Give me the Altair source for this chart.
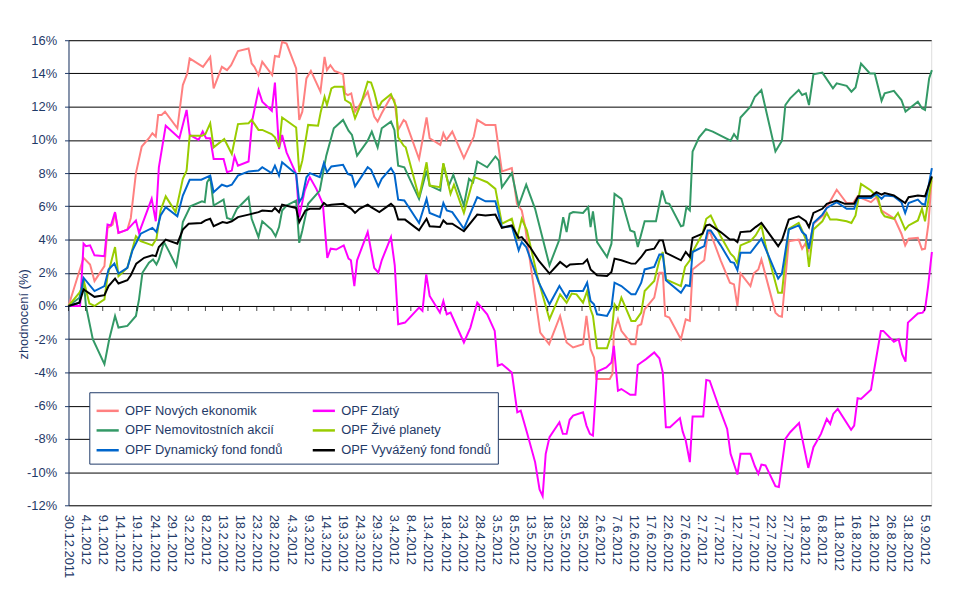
import altair as alt
import pandas as pd

FONT = "Liberation Sans"
NAVY = "#1F3A68"

SERIES = ["OPF Nových ekonomik", "OPF Zlatý", "OPF Nemovitostních akcií",
          "OPF Živé planety", "OPF Dynamický fond fondů", "OPF Vyvážený fond fondů"]
COLORS = ["#FF8080", "#FF00FF", "#339966", "#99CC00", "#0066CC", "#000000"]
# legend fills column by column, so list entries column-wise
LEGEND_ORDER = [0, 2, 4, 1, 3, 5]

X_LABELS = ["30.12.2011", "4.1.2012", "9.1.2012", "14.1.2012", "19.1.2012", "24.1.2012",
            "29.1.2012", "3.2.2012", "8.2.2012", "13.2.2012", "18.2.2012", "23.2.2012",
            "28.2.2012", "4.3.2012", "9.3.2012", "14.3.2012", "19.3.2012", "24.3.2012",
            "29.3.2012", "3.4.2012", "8.4.2012", "13.4.2012", "18.4.2012", "23.4.2012",
            "28.4.2012", "3.5.2012", "8.5.2012", "13.5.2012", "18.5.2012", "23.5.2012",
            "28.5.2012", "2.6.2012", "7.6.2012", "12.6.2012", "17.6.2012", "22.6.2012",
            "27.6.2012", "2.7.2012", "7.7.2012", "12.7.2012", "17.7.2012", "22.7.2012",
            "27.7.2012", "1.8.2012", "6.8.2012", "11.8.2012", "16.8.2012", "21.8.2012",
            "26.8.2012", "31.8.2012", "5.9.2012"]
Y_TICKS = [-12, -10, -8, -6, -4, -2, 0, 2, 4, 6, 8, 10, 12, 14, 16]

# days since 30.12.2011, value in %
nove_day = [0, 4.4, 6.3, 7.6, 10.5, 11.4, 12.9, 13.6, 14.6, 17.2, 18.2, 19.7, 21.4, 23.5, 24.5, 25.5, 26.2, 27.2, 28.2, 31.8, 33.4, 34.7, 35.4, 39.3, 41.4, 42.4, 44.8, 46.3, 47.5, 49.5, 52.6, 53.5, 54.3, 55.5, 56.6, 59.5, 60.3, 61.5, 62.4, 63.7, 66.5, 67.4, 68.3, 69.5, 70.8, 73.6, 74.8, 75.5, 76.5, 77.7, 80.2, 80.8, 81.6, 82.6, 83.7, 85.0, 87.4, 89.3, 90.3, 91.5, 94.2, 95.2, 96.3, 97.9, 98.5, 102.4, 104.6, 105.5, 108.6, 109.5, 110.4, 112.1, 115.5, 118.4, 119.4, 121.8, 124.7, 126.6, 129.5, 131.0, 132.4, 133.4, 137.8, 140.4, 143.6, 145.5, 147.4, 150.3, 151.3, 152.5, 153.5, 154.2, 158.1, 158.9, 159.3, 160.5, 161.5, 163.4, 164.4, 165.6, 166.3, 167.3, 168.3, 171.1, 172.6, 173.6, 174.3, 175.5, 178.9, 180.3, 181.5, 182.3, 185.7, 186.7, 187.3, 190.5, 193.2, 194.4, 195.4, 196.3, 199.2, 200.2, 201.5, 202.4, 206.5, 207.5, 208.4, 210.4, 213.3, 214.3, 215.2, 216.2, 217.6, 220.5, 221.5, 224.4, 227.3, 229.2, 230.5, 232.1, 234.4, 236.0, 237.5, 241.3, 243.3, 244.4, 245.4, 248.1, 249.3, 250.2, 251.2, 252.1]
nove_val = [0, 2.9, 2.5, 1.5, 2.4, 4.7, 4.9, 5.6, 4.4, 4.6, 5.3, 8.0, 9.6, 10.1, 10.4, 10.2, 11.5, 11.5, 11.7, 10.7, 13.3, 14.0, 14.9, 14.4, 15.0, 13.1, 14.4, 14.2, 14.5, 15.35, 15.5, 14.6, 14.4, 13.9, 14.7, 13.9, 15.05, 15.0, 15.9, 15.8, 14.3, 11.2, 11.7, 13.7, 14.15, 12.9, 15.0, 14.2, 14.5, 14.15, 13.95, 12.8, 12.7, 12.8, 11.7, 12.1, 12.9, 11.4, 11.1, 11.6, 12.6, 12.4, 10.6, 11.2, 11.1, 8.85, 11.35, 10.1, 9.7, 10.4, 10.0, 10.5, 8.9, 10.2, 11.2, 10.9, 10.9, 8.1, 8.3, 6.15, 5.75, 4.75, -1.6, -2.3, -0.6, -2.2, -2.5, -2.3, -0.6, -2.6, -3.1, -4.4, -4.4, -4.1, -1.6, -0.8, -1.5, -2.0, -2.3, -2.3, -1.2, -1.1, -0.2, 0.5, 2.0, 2.0, -0.6, -0.7, -2.0, -0.8, -0.9, 2.2, 2.75, 4.3, 4.5, 2.75, 1.4, 1.3, 0.0, 1.96, 1.2, 1.97, 2.2, 2.8, -0.4, -0.6, -0.65, 3.9, 4.0, 3.45, 3.75, 3.35, 4.95, 5.45, 5.95, 7.0, 6.2, 6.2, 6.6, 6.45, 6.25, 6.55, 5.75, 5.25, 4.35, 3.65, 4.05, 4.1, 3.4, 3.45, 4.95, 7.55]

zlaty_day = [0, 3.4, 4.4, 5.1, 6.3, 7.6, 10.5, 11.4, 12.4, 13.6, 14.6, 17.2, 19.7, 20.6, 24.3, 25.5, 26.4, 28.4, 32.4, 34.5, 35.4, 38.0, 39.2, 40.2, 41.4, 42.4, 45.3, 46.3, 47.7, 48.5, 49.5, 52.6, 53.7, 55.5, 56.6, 59.4, 60.3, 61.5, 62.4, 63.7, 66.5, 67.4, 69.0, 70.5, 72.4, 74.3, 75.6, 76.6, 78.2, 80.4, 81.8, 82.5, 83.5, 84.3, 87.4, 89.3, 90.5, 91.5, 94.2, 95.3, 96.3, 98.3, 102.4, 103.4, 104.5, 105.5, 108.5, 109.5, 110.5, 111.6, 115.5, 117.4, 119.4, 122.3, 124.5, 125.4, 126.6, 129.5, 131.1, 132.1, 133.9, 136.3, 137.6, 138.5, 139.4, 140.5, 143.4, 144.4, 145.5, 146.4, 147.4, 150.3, 151.3, 152.3, 153.2, 154.4, 157.1, 158.6, 159.3, 160.5, 161.5, 164.1, 165.6, 166.3, 167.3, 168.7, 171.1, 172.6, 173.6, 174.5, 175.7, 178.6, 179.4, 180.3, 181.5, 182.3, 185.4, 186.3, 187.3, 190.2, 192.4, 193.4, 195.4, 196.3, 199.2, 200.5, 201.5, 202.4, 203.6, 206.5, 207.5, 209.4, 210.8, 213.4, 216.1, 217.6, 219.8, 221.5, 222.5, 223.4, 224.7, 228.6, 229.5, 230.5, 231.5, 234.4, 235.3, 237.3, 238.0, 241.1, 242.5, 243.5, 244.5, 245.2, 248.1, 249.5, 250.2, 251.1, 252.2]
zlaty_val = [0, 0, 3.75, 3.6, 3.65, 3.05, 3.0, 4.9, 4.85, 5.65, 4.4, 4.6, 5.15, 4.4, 6.45, 5.1, 8.35, 10.85, 10.1, 11.8, 10.3, 10.0, 10.5, 10.1, 10.1, 8.85, 8.85, 8.05, 8.15, 9.0, 8.45, 8.7, 11.2, 13.0, 12.3, 11.75, 13.45, 9.45, 10.3, 9.25, 7.95, 5.35, 6.95, 7.75, 7.05, 6.15, 2.9, 3.45, 3.4, 3.65, 2.85, 2.75, 1.2, 2.75, 4.45, 2.3, 2.0, 2.75, 4.15, 2.45, -1.1, -1.0, -0.1, -0.3, 1.9, 0.6, -0.4, 0.3, -0.5, -0.4, -2.2, -1.3, 0.2, -0.5, -1.5, -3.6, -3.5, -4.0, -6.4, -6.3, -7.6, -9.4, -11.05, -11.45, -8.9, -7.9, -7.0, -7.7, -7.7, -6.85, -6.6, -6.4, -7.2, -7.7, -7.8, -3.95, -3.7, -3.4, -2.4, -5.1, -5.0, -5.35, -5.35, -3.55, -3.4, -3.2, -2.8, -3.15, -4.0, -7.3, -7.3, -6.75, -7.55, -8.1, -9.4, -6.65, -6.65, -4.45, -4.5, -6.2, -7.4, -8.9, -10.15, -8.9, -8.9, -9.65, -10.1, -9.55, -9.6, -10.85, -10.9, -8.0, -7.6, -7.05, -9.75, -8.5, -7.7, -6.8, -7.1, -6.5, -6.2, -7.45, -7.2, -5.55, -5.6, -5.05, -3.9, -1.5, -1.5, -2.15, -2.0, -2.9, -3.35, -1.0, -0.45, -0.4, -0.2, 1.2, 3.25]

nemo_day = [0, 3.2, 4.4, 5.1, 7.1, 10.5, 11.9, 13.6, 14.6, 17.2, 19.7, 20.6, 21.6, 23.5, 24.7, 25.7, 26.4, 27.9, 29.3, 31.5, 32.4, 33.4, 35.6, 39.0, 39.8, 40.5, 41.4, 42.4, 45.3, 46.3, 47.7, 49.2, 52.6, 53.5, 55.5, 56.6, 59.3, 60.5, 61.5, 62.4, 63.7, 66.5, 67.4, 68.3, 70.0, 73.4, 75.3, 77.5, 80.2, 81.8, 82.8, 84.3, 87.4, 88.6, 90.3, 91.5, 94.2, 95.2, 96.3, 98.1, 102.4, 104.6, 105.5, 108.6, 109.5, 111.1, 112.4, 115.5, 117.0, 118.2, 119.4, 122.3, 124.7, 125.7, 126.6, 129.5, 131.5, 133.7, 136.3, 140.5, 143.4, 144.5, 145.5, 146.4, 147.4, 150.3, 151.8, 152.5, 153.2, 154.4, 157.3, 158.6, 159.5, 161.5, 164.1, 165.3, 166.3, 168.3, 171.6, 173.4, 174.5, 175.5, 178.9, 179.6, 180.5, 181.5, 182.3, 184.2, 186.2, 188.2, 193.4, 194.4, 195.4, 196.3, 199.2, 200.5, 202.4, 206.5, 208.4, 209.4, 210.8, 213.3, 214.3, 215.4, 216.3, 217.6, 220.2, 223.3, 224.4, 227.3, 228.7, 229.9, 231.5, 234.1, 235.5, 237.5, 238.4, 241.1, 243.3, 244.5, 248.1, 249.3, 250.2, 251.4, 252.2]
nemo_val = [0, 0.5, 1.6, 0.0, -2.0, -3.5, -2.0, -0.6, -1.3, -1.2, -0.6, 0.4, 2.0, 2.6, 2.8, 2.5, 2.8, 3.85, 3.3, 2.4, 3.5, 5.05, 6.0, 6.3, 6.25, 7.45, 7.75, 6.05, 6.4, 5.3, 5.2, 5.85, 6.55, 5.25, 4.15, 5.1, 4.6, 4.2, 4.75, 5.75, 6.05, 6.35, 3.8, 4.55, 6.15, 6.95, 9.05, 10.7, 11.2, 10.55, 10.3, 9.05, 9.95, 10.5, 9.55, 10.7, 11.1, 10.6, 8.45, 8.35, 6.45, 8.15, 7.25, 6.95, 8.55, 7.25, 7.9, 6.05, 7.65, 7.45, 8.7, 8.35, 9.0, 8.75, 7.15, 8.0, 6.05, 7.3, 5.85, 2.45, 4.0, 5.35, 4.45, 5.55, 5.65, 5.6, 5.95, 4.75, 5.7, 3.85, 2.95, 3.75, 6.75, 6.45, 4.55, 4.45, 3.55, 5.1, 5.1, 6.95, 6.2, 6.15, 4.8, 4.85, 5.95, 5.75, 9.3, 10.15, 10.65, 10.5, 9.95, 10.35, 10.05, 11.35, 12.0, 12.6, 13.0, 9.3, 9.95, 12.1, 12.5, 13.0, 12.7, 12.8, 12.1, 13.95, 14.05, 13.1, 13.4, 13.25, 12.9, 13.15, 14.6, 14.0, 14.0, 12.35, 12.8, 12.95, 12.4, 11.7, 12.3, 11.9, 11.8, 13.7, 14.2]

zive_day = [0, 3.2, 4.6, 6.1, 7.6, 10.5, 11.4, 13.6, 14.6, 17.2, 19.7, 21.1, 24.5, 25.7, 26.9, 28.4, 31.3, 33.4, 34.5, 35.4, 39.0, 40.0, 41.4, 42.4, 45.5, 47.7, 49.5, 52.6, 53.5, 55.5, 56.6, 59.3, 60.3, 61.5, 62.4, 66.5, 67.4, 68.3, 70.0, 72.9, 73.7, 74.8, 75.5, 76.8, 77.7, 80.2, 80.8, 82.4, 83.7, 85.5, 87.4, 88.4, 89.3, 90.5, 91.5, 94.2, 95.7, 96.3, 97.9, 98.5, 102.4, 104.6, 105.5, 108.5, 109.5, 111.6, 112.6, 115.5, 118.4, 119.4, 122.3, 124.7, 126.6, 129.5, 131.0, 132.4, 133.9, 137.0, 140.5, 143.6, 145.5, 147.0, 148.4, 150.3, 151.5, 152.5, 153.2, 154.4, 157.3, 158.6, 159.5, 160.5, 161.5, 164.4, 165.6, 167.3, 168.3, 171.1, 172.6, 173.6, 174.5, 178.9, 180.1, 181.5, 182.3, 185.2, 186.3, 187.6, 190.5, 193.4, 194.4, 195.4, 196.3, 199.2, 200.7, 202.4, 203.6, 207.3, 208.4, 210.4, 213.3, 214.3, 215.4, 216.3, 217.6, 220.2, 221.5, 222.5, 224.4, 227.3, 228.7, 229.9, 231.5, 234.4, 236.5, 237.5, 238.4, 241.1, 242.3, 244.4, 245.4, 248.1, 249.3, 250.2, 252.2]
zive_val = [0, 0.8, 1.4, 0.15, 0.0, 0.4, 1.8, 3.55, 1.8, 2.3, 4.2, 3.9, 3.65, 4.05, 5.75, 6.6, 5.65, 7.65, 8.15, 10.25, 10.25, 10.35, 11.0, 9.55, 10.05, 9.15, 10.95, 11.0, 11.2, 10.6, 10.6, 10.35, 10.15, 9.55, 11.35, 10.75, 8.05, 8.75, 10.9, 10.85, 11.7, 12.6, 12.1, 13.1, 13.2, 13.2, 12.4, 12.2, 11.3, 12.2, 13.5, 13.45, 12.9, 11.9, 12.3, 12.75, 12.0, 10.15, 9.65, 9.55, 6.55, 8.65, 7.25, 7.15, 8.6, 6.75, 7.3, 5.6, 7.75, 7.7, 7.45, 7.05, 4.95, 5.25, 4.05, 5.25, 4.55, 1.75, -0.8, 0.7, 0.2, 0.75, 0.7, 0.2, 0.9, -0.2, -0.6, -2.55, -2.55, -1.7, 0.1, -0.2, 0.5, -0.9, -0.9, -0.4, 0.9, 1.5, 2.75, 3.25, 1.6, 1.2, 2.35, 2.75, 3.25, 4.35, 5.25, 5.45, 4.2, 3.15, 2.95, 2.55, 3.65, 3.9, 4.25, 4.85, 3.65, 0.8, 0.8, 4.65, 5.0, 4.55, 4.0, 2.35, 4.6, 5.1, 5.6, 5.2, 5.2, 5.1, 5.0, 5.45, 7.35, 6.95, 6.5, 5.65, 5.4, 5.25, 5.6, 4.6, 4.85, 5.15, 5.85, 5.1, 7.75]

dyna_day = [0, 3.2, 4.4, 7.6, 10.5, 11.7, 13.4, 14.6, 17.2, 18.7, 21.1, 24.5, 25.7, 26.9, 28.4, 31.8, 33.4, 35.4, 38.8, 41.4, 42.4, 44.8, 46.3, 47.7, 49.5, 52.6, 55.5, 56.6, 59.3, 60.3, 61.5, 62.4, 66.5, 67.4, 68.3, 69.5, 70.5, 73.4, 74.6, 75.5, 76.8, 80.2, 81.6, 82.8, 83.7, 87.4, 88.4, 90.5, 91.5, 94.2, 95.2, 96.3, 98.1, 102.4, 104.6, 105.5, 108.5, 109.5, 110.5, 112.1, 115.5, 119.4, 121.8, 124.7, 126.6, 129.5, 131.5, 132.4, 133.7, 137.3, 140.5, 143.4, 145.5, 146.4, 150.3, 151.5, 152.5, 153.5, 154.4, 157.3, 158.6, 159.5, 161.5, 164.4, 165.6, 167.3, 168.3, 171.1, 172.6, 173.6, 174.5, 178.9, 180.3, 181.5, 182.3, 185.7, 186.7, 187.6, 190.5, 193.4, 194.4, 195.4, 196.3, 199.2, 200.7, 202.4, 207.3, 208.4, 210.4, 213.3, 214.3, 215.4, 216.3, 217.6, 220.2, 221.5, 224.4, 227.3, 229.5, 230.5, 234.4, 236.0, 237.5, 238.4, 241.1, 243.3, 244.4, 245.4, 248.1, 249.3, 250.2, 252.2]
dyna_val = [0, 0.2, 1.7, 0.9, 1.2, 2.2, 2.55, 1.95, 2.3, 3.35, 4.35, 4.7, 4.45, 5.45, 5.95, 5.4, 6.65, 7.6, 7.6, 7.85, 6.85, 7.3, 7.2, 7.3, 7.85, 8.1, 8.15, 8.35, 8.0, 8.45, 7.85, 8.65, 7.95, 6.25, 6.55, 7.75, 8.0, 7.75, 8.6, 8.05, 8.4, 8.5, 7.95, 7.85, 7.2, 8.35, 8.2, 7.2, 7.65, 8.3, 7.95, 6.4, 6.35, 5.0, 6.45, 5.6, 5.35, 6.2, 5.75, 5.65, 4.65, 6.55, 6.3, 6.3, 4.75, 4.8, 3.35, 3.85, 3.55, 1.45, 0.1, 1.2, 0.5, 0.9, 0.9, 1.4, 0.3, 0.1, -0.5, -0.6, -0.1, 1.4, 1.2, 0.7, 0.7, 1.4, 2.2, 2.35, 3.1, 3.1, 1.55, 0.8, 1.25, 1.2, 3.25, 3.6, 4.55, 4.55, 3.65, 2.65, 2.6, 2.15, 3.2, 3.2, 3.6, 4.05, 1.65, 1.95, 4.6, 4.85, 4.45, 4.25, 3.45, 5.0, 5.5, 5.9, 6.25, 5.85, 5.85, 6.5, 6.5, 6.75, 6.45, 6.65, 6.6, 6.25, 5.6, 6.2, 6.4, 6.15, 6.1, 8.3]

vyva_day = [0, 3.2, 4.4, 5.1, 7.6, 10.5, 11.7, 13.6, 14.6, 17.2, 18.2, 19.8, 22.1, 24.5, 25.5, 26.4, 28.4, 31.8, 33.4, 35.1, 38.8, 40.0, 41.4, 42.4, 45.0, 46.3, 47.7, 49.5, 52.6, 55.5, 56.6, 59.4, 60.3, 61.5, 62.4, 66.5, 67.4, 69.2, 70.5, 73.4, 74.6, 75.5, 76.8, 80.2, 82.6, 83.7, 85.0, 87.4, 88.4, 90.8, 94.2, 95.2, 96.3, 98.3, 102.4, 104.6, 105.5, 108.5, 109.5, 110.5, 112.1, 115.5, 119.4, 121.8, 124.7, 126.6, 129.5, 131.5, 132.4, 134.8, 137.3, 140.5, 143.6, 145.5, 146.5, 150.3, 151.5, 152.5, 154.4, 157.3, 158.6, 159.5, 161.5, 164.4, 165.6, 167.3, 168.7, 171.1, 172.6, 173.6, 174.5, 178.9, 180.3, 181.5, 182.3, 185.2, 186.3, 187.3, 190.5, 193.2, 194.4, 195.4, 196.3, 199.2, 200.7, 202.4, 207.3, 208.4, 210.4, 213.3, 215.4, 216.3, 217.6, 220.2, 221.5, 224.4, 226.8, 229.5, 230.7, 234.4, 236.0, 237.5, 238.4, 241.1, 243.3, 244.4, 245.4, 248.1, 250.2, 252.2]
vyva_val = [0, 0.2, 1.0, 0.9, 0.55, 0.65, 1.2, 1.65, 1.35, 1.55, 1.85, 2.55, 2.9, 3.05, 3.0, 3.55, 4.0, 3.75, 4.6, 4.95, 5.0, 5.15, 5.25, 4.8, 5.05, 5.0, 5.1, 5.35, 5.5, 5.65, 5.75, 5.7, 5.9, 5.65, 6.1, 5.9, 5.05, 5.75, 5.85, 5.85, 6.2, 6.05, 6.1, 6.15, 5.85, 5.6, 5.85, 6.1, 5.95, 5.65, 6.15, 5.95, 5.2, 5.2, 4.55, 5.25, 4.8, 4.75, 5.15, 4.95, 4.95, 4.5, 5.5, 5.45, 5.5, 4.7, 4.85, 4.1, 4.15, 3.55, 2.75, 1.95, 2.65, 2.35, 2.5, 2.55, 2.8, 2.2, 1.85, 1.8, 2.05, 2.85, 2.75, 2.55, 2.55, 2.95, 3.35, 3.45, 3.95, 3.95, 3.2, 2.75, 3.25, 2.95, 4.1, 4.35, 4.85, 4.9, 4.45, 4.0, 4.0, 3.85, 4.45, 4.5, 4.75, 5.0, 3.6, 3.95, 5.2, 5.4, 5.1, 4.75, 5.6, 5.85, 6.15, 6.35, 6.15, 6.15, 6.6, 6.6, 6.85, 6.7, 6.8, 6.65, 6.35, 6.2, 6.55, 6.65, 6.6, 7.8]

series_data = [(SERIES[0], nove_day, nove_val), (SERIES[1], zlaty_day, zlaty_val),
               (SERIES[2], nemo_day, nemo_val), (SERIES[3], zive_day, zive_val),
               (SERIES[4], dyna_day, dyna_val), (SERIES[5], vyva_day, vyva_val)]
rows = []
for order, (name, days, vals) in enumerate(series_data):
    for d, v in zip(days, vals):
        rows.append({"series": name, "day": d, "val": v, "k": order})
df = pd.DataFrame(rows)

legend_domain = [SERIES[i] for i in LEGEND_ORDER]
legend_range = [COLORS[i] for i in LEGEND_ORDER]

tick_days = [5 * i for i in range(len(X_LABELS))]
ticks_df = pd.DataFrame({"day": tick_days})
label_expr = "[" + ",".join("'" + s + "'" for s in X_LABELS) + "][round(datum.value / 5)]"

xs = alt.Scale(domain=[0, 252], nice=False, zero=False)
ys = alt.Scale(domain=[-12, 16], nice=False, zero=False)

x_axis = alt.Axis(values=tick_days, labelExpr=label_expr, labelAngle=90, labelAlign="left",
                  labelBaseline="middle", labelPadding=9, domain=False, ticks=False, grid=False,
                  title=None, labelFont=FONT, labelFontSize=13, labelColor=NAVY, labelOverlap=False,
                  labelBound=False, labelFlush=False)
y_axis = alt.Axis(values=Y_TICKS, labelExpr="datum.value + '%'", grid=True, gridColor="#000000",
                  gridWidth=1, domain=True, domainColor=NAVY, domainWidth=1, ticks=True, tickColor=NAVY,
                  tickSize=4, labelPadding=8, labelFont=FONT, labelFontSize=13, labelColor=NAVY,
                  labelOverlap=False, labelBound=False, labelFlush=False,
                  title="zhodnocení  (%)", titleFont=FONT, titleFontSize=13, titleFontWeight="normal",
                  titleColor=NAVY, titleAngle=270, titleAlign="center", titleBaseline="middle",
                  titleX=-45, titleY=276)

lines = alt.Chart(df).mark_line(strokeWidth=2).encode(
    x=alt.X("day:Q", scale=xs, axis=x_axis),
    y=alt.Y("val:Q", scale=ys, axis=y_axis),
    color=alt.Color("series:N", scale=alt.Scale(domain=legend_domain, range=legend_range),
                    legend=alt.Legend(title=None, orient="none", legendX=21, legendY=355, columns=2,
                                      symbolType="stroke", symbolSize=500, symbolStrokeWidth=2.5,
                                      labelFont=FONT, labelFontSize=13, labelColor=NAVY, labelLimit=400,
                                      strokeColor=NAVY, fillColor="#FFFFFF", padding=6,
                                      rowPadding=0, columnPadding=25, labelOffset=5)),
    order=alt.Order("k:Q"),
)

zero_ticks = alt.Chart(ticks_df).mark_tick(orient="vertical", size=5, thickness=1, color="#000000",
                                           yOffset=2.5).encode(
    x=alt.X("day:Q", scale=xs, axis=x_axis),
    y=alt.YDatum(0, scale=ys, axis=y_axis),
)

chart = alt.layer(lines, zero_ticks).properties(
    width=870, height=469,
    autosize=alt.AutoSizeParams(type="none"),
    padding={"left": 61, "top": 30, "right": 24, "bottom": 91},
).configure_view(strokeWidth=0).configure(background="#FFFFFF")

chart.save("out.html", embed_options={"renderer": "svg", "actions": False})
